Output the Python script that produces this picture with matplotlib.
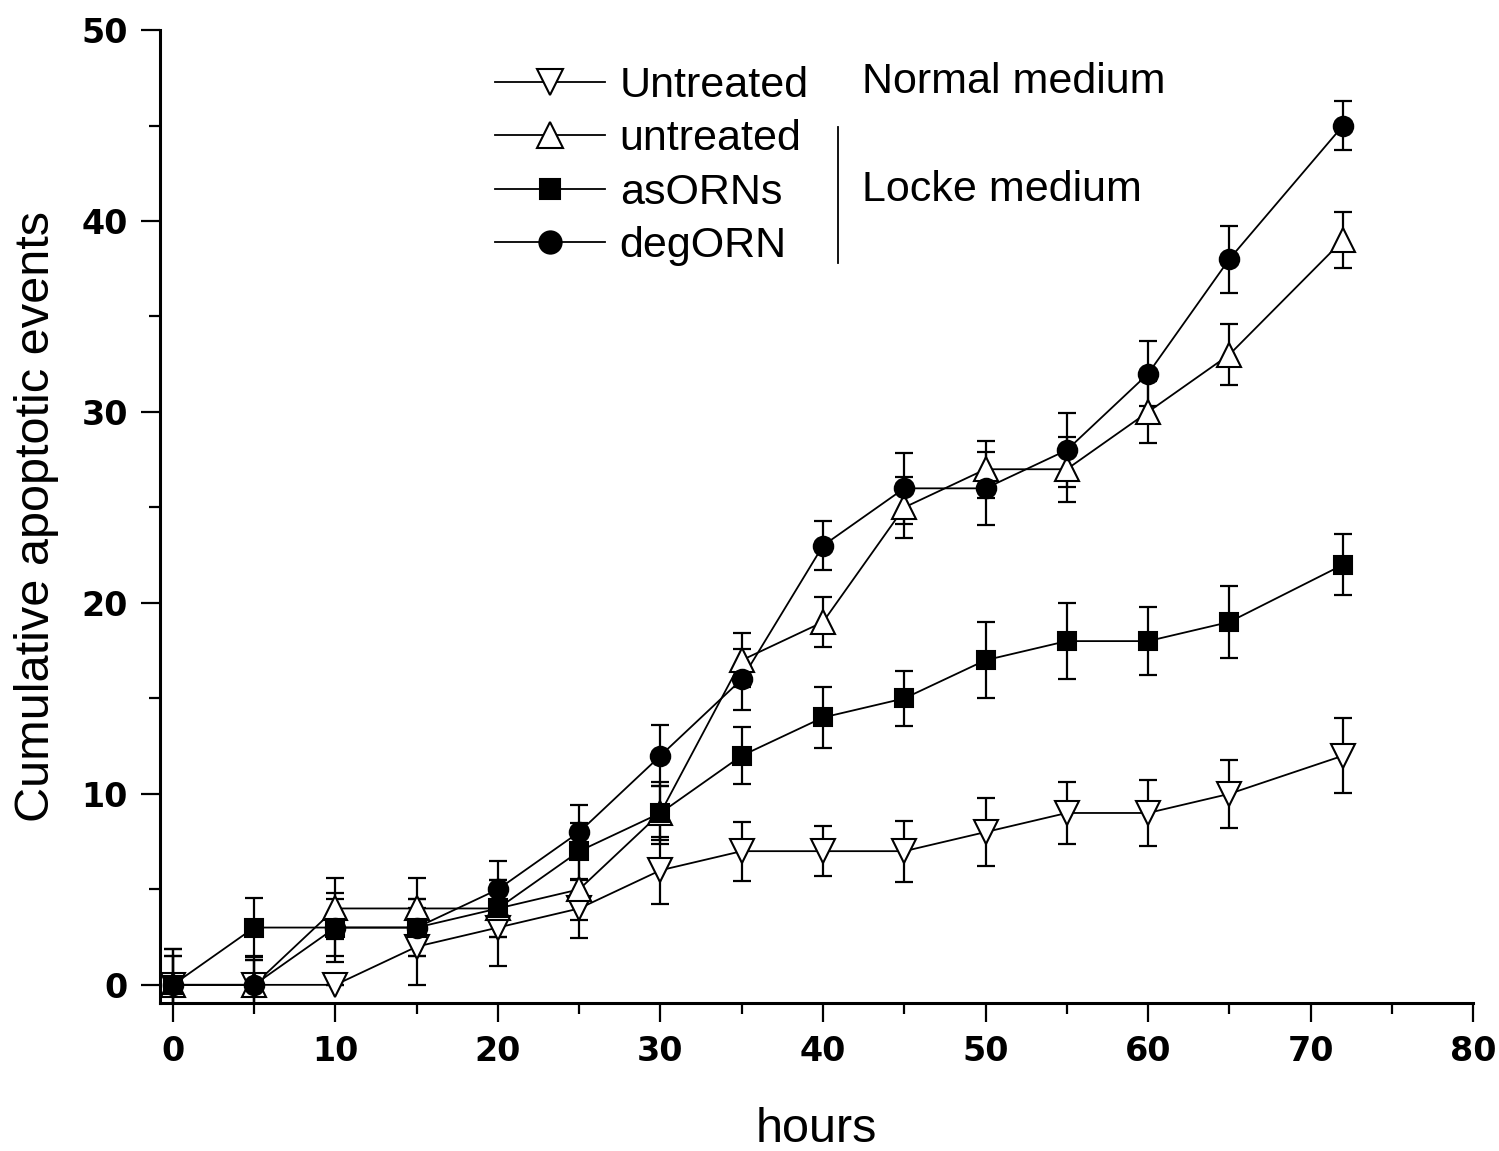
import matplotlib
matplotlib.use("Agg")
import matplotlib.pyplot as plt
from matplotlib.lines import Line2D

hours = [0, 5, 10, 15, 20, 25, 30, 35, 40, 45, 50, 55, 60, 65, 72]
normal_untreated = [0, 0, 0, 2, 3, 4, 6, 7, 7, 7, 8, 9, 9, 10, 12]
normal_untreated_err = [1.9, 1.3, 0, 2.0, 2.0, 1.55, 1.75, 1.55, 1.3, 1.6, 1.8, 1.6, 1.75, 1.8, 1.95]
locke_untreated = [0, 0, 4, 4, 4, 5, 9, 17, 19, 25, 27, 27, 30, 33, 39]
locke_untreated_err = [1.5, 1.3, 1.6, 1.6, 1.5, 1.6, 1.6, 1.4, 1.3, 1.6, 1.5, 1.7, 1.6, 1.6, 1.45]
asorns = [0, 3, 3, 3, 4, 7, 9, 12, 14, 15, 17, 18, 18, 19, 22]
asorns_err = [1.5, 1.55, 1.5, 1.5, 1.5, 1.5, 1.4, 1.5, 1.6, 1.45, 2.0, 2.0, 1.8, 1.9, 1.6]
degorn = [0, 0, 3, 3, 5, 8, 12, 16, 23, 26, 26, 28, 32, 38, 45]
degorn_err = [1.9, 1.5, 1.8, 1.5, 1.5, 1.4, 1.6, 1.6, 1.3, 1.85, 1.9, 1.95, 1.7, 1.75, 1.3]

labels = ["Untreated", "untreated", "asORNs", "degORN"]

fig = plt.figure(figsize=(14.99, 11.51), dpi=100)
ax = fig.add_axes([0.1067, 0.1286, 0.876, 0.8453])

series = [
    (normal_untreated, normal_untreated_err, "v", "white", 17, labels[0]),
    (locke_untreated, locke_untreated_err, "^", "white", 17, labels[1]),
    (asorns, asorns_err, "s", "black", 13, labels[2]),
    (degorn, degorn_err, "o", "black", 14, labels[3]),
]

handles = []
for vals, err, mk, fc, ms, lab in series:
    ax.errorbar(hours, vals, yerr=err, fmt="none", ecolor="black",
                elinewidth=1.6, capsize=6.5, capthick=1.6, zorder=2)
    ax.plot(hours, vals, color="black", lw=1.3, zorder=3)
    ax.plot(hours, vals, linestyle="none", marker=mk, ms=ms, mfc=fc,
            mec="black", mew=1.5, zorder=4)
    handles.append(Line2D([], [], color="black", lw=1.3, marker=mk, ms=ms + 2,
                          mfc=fc, mec="black", mew=1.5))

ax.set_xlim(-0.8, 80)
ax.set_ylim(-0.95, 50)
ax.set_xticks(range(0, 81, 10))
ax.set_xticks(range(5, 80, 10), minor=True)
ax.set_yticks(range(0, 51, 10))
ax.set_yticks(range(5, 50, 10), minor=True)

for s in ["top", "right"]:
    ax.spines[s].set_visible(False)
for s in ["left", "bottom"]:
    ax.spines[s].set_linewidth(2.2)

ax.tick_params(which="major", direction="out", length=14, width=1.6, pad=9,
               labelsize=24)
ax.tick_params(which="minor", direction="out", length=8, width=1.6)
for t in ax.get_xticklabels() + ax.get_yticklabels():
    t.set_fontfamily("DejaVu Sans")
    t.set_fontweight("bold")

ax.set_xlabel("hours", fontsize=35, family="Liberation Sans", labelpad=28)
ax.set_ylabel("Cumulative apoptotic events", fontsize=35,
              family="Liberation Sans", labelpad=16)

leg = ax.legend(handles, labels, loc="upper left", bbox_to_anchor=(0.255, 0.963),
                frameon=False, prop={"family": "Liberation Sans", "size": 31},
                handlelength=2.55, handletextpad=0.35, labelspacing=0.31,
                borderpad=0, borderaxespad=0)

ax.text(0.5347, 0.9466, "Normal medium", transform=ax.transAxes,
        fontsize=31, family="Liberation Sans", va="center", ha="left")
ax.text(0.5347, 0.8356, "Locke medium", transform=ax.transAxes,
        fontsize=31, family="Liberation Sans", va="center", ha="left")
ax.add_line(Line2D([0.5164, 0.5164], [0.7605, 0.9003], transform=ax.transAxes,
                   color="black", lw=1.3))

fig.savefig("out.png", dpi=100)
